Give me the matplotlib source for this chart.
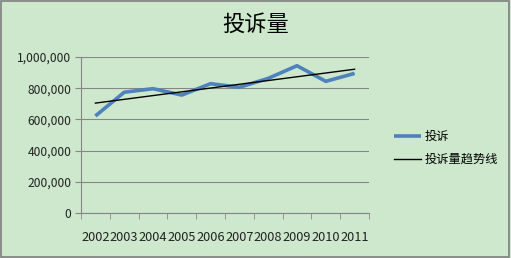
import numpy as np
import matplotlib
matplotlib.use("Agg")
import matplotlib.pyplot as plt
from matplotlib.ticker import FuncFormatter
from matplotlib.patches import Rectangle

plt.rcParams['font.family'] = ['Noto Sans CJK SC', 'DejaVu Sans']

years = ['2002', '2003', '2004', '2005', '2006', '2007', '2008', '2009', '2010', '2011']
complaints = [622000, 774000, 797000, 756000, 829000, 806000, 863000, 944000, 844000, 895000]

bg = '#cde8cc'
fig = plt.figure(figsize=(5.11, 2.58), dpi=100, facecolor=bg)
ax = fig.add_axes((81/511, 1 - 213/258, (369 - 81)/511, (213 - 57)/258))
ax.set_facecolor(bg)

x = np.arange(len(years))
coef = np.polyfit(x, complaints, 1)
trend = np.polyval(coef, x)

ax.plot(x, complaints, color='#4f81bd', lw=2.6, solid_capstyle='butt', label='投诉', zorder=3)
ax.plot(x, trend, color='black', lw=1.0, label='投诉量趋势线', zorder=4)

ax.set_xlim(-0.5, len(years) - 0.5)
ax.set_ylim(0, 1000000)
ax.set_yticks(np.arange(0, 1000001, 200000))
ax.yaxis.set_major_formatter(FuncFormatter(lambda v, p: f'{int(v):,}'))
ax.set_xticks(x)
ax.set_xticklabels(years)
ax.set_xticks(np.arange(-0.5, len(years), 1), minor=True)
ax.tick_params(axis='x', which='major', length=0, pad=13, labelsize=9.2, colors='#222222')
ax.tick_params(axis='x', which='minor', length=4, color='#868686', direction='out')
ax.tick_params(axis='y', length=4, color='#868686', labelsize=8.7, labelcolor='#222222', pad=3)

ax.grid(axis='y', color='#868686', lw=0.8)
ax.set_axisbelow(True)
for s in ['top', 'right']:
    ax.spines[s].set_visible(False)
for s in ['left', 'bottom']:
    ax.spines[s].set_color('#868686')
    ax.spines[s].set_linewidth(0.8)

fig.text(256/511, 1 - 24/258, '投诉量', ha='center', va='center', fontsize=16)

leg = fig.legend(loc='center left', bbox_to_anchor=(383/511, 1 - 148/258), frameon=False,
                 fontsize=8.8, handlelength=2.2, handletextpad=0.3, labelspacing=0.8)

fig.patches.append(Rectangle((0.002, 0.004), 0.994, 0.992, transform=fig.transFigure,
                             fill=False, edgecolor='#7f7f7f', lw=1.2))

fig.savefig('out.png', dpi=100, facecolor=bg)
